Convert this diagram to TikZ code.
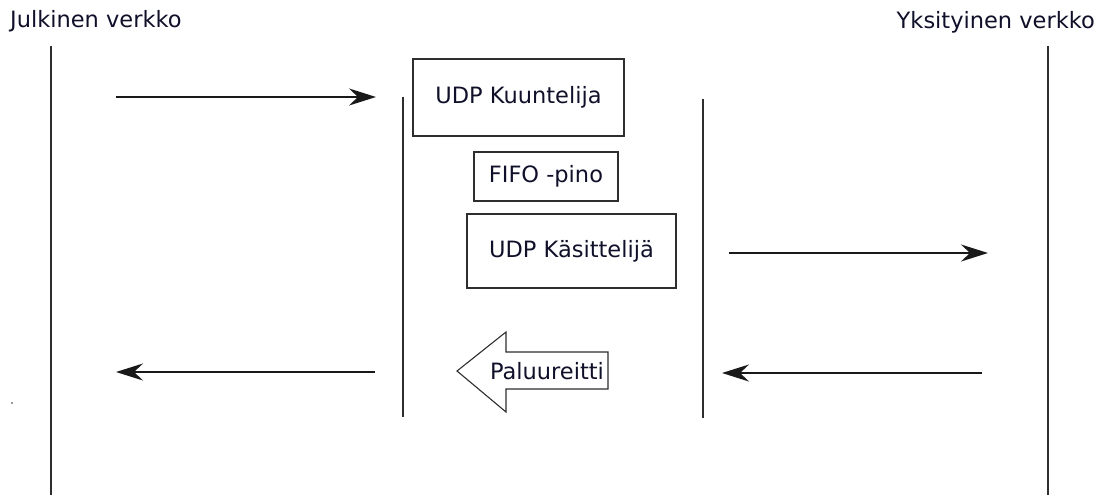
\documentclass[tikz,border=0pt]{standalone}
\usepackage{fontspec}
\setmainfont{DejaVu Sans}
\usetikzlibrary{arrows.meta}
\definecolor{ink}{HTML}{2E2E2E}
\definecolor{txt}{HTML}{10102A}
\begin{document}
\begin{tikzpicture}[x=1pt,y=-1pt,
  lbl/.style={font=\fontsize{22.5}{27}\selectfont,text=txt,inner sep=0pt},
  box/.style={lbl,draw=ink,line width=1.7pt},
  wall/.style={draw=ink,line width=1.9pt},
  flow/.style={draw=black!90,line width=1.9pt,-{Stealth[length=27pt,width=17pt,inset=9pt]}},
  retshape/.style={draw=ink,line width=1.1pt,fill=white,line join=miter}
]
\useasboundingbox (0,0) rectangle (1105,495);

% network headings
\node[lbl,anchor=west] (public) at (10,21) {Julkinen verkko};
\node[lbl,anchor=east] (private) at (1095,22) {Yksityinen verkko};

% outer network lines
\coordinate (pubTop) at (51,46);   \coordinate (pubBot) at (51,495);
\coordinate (privTop) at (1048,46); \coordinate (privBot) at (1048,495);
\draw[wall] (pubTop) -- (pubBot);
\draw[wall] (privTop) -- (privBot);

% inner gateway boundaries
\coordinate (gwLTop) at (403,97);  \coordinate (gwLBot) at (403,417);
\coordinate (gwRTop) at (703,99);  \coordinate (gwRBot) at (703,418);
\draw[wall] (gwLTop) -- (gwLBot);
\draw[wall] (gwRTop) -- (gwRBot);

% components
\node[box,minimum width=211pt,minimum height=77pt] (listener) at (518.5,97.5) {UDP Kuuntelija};
\node[box,minimum width=144pt,minimum height=49pt] (fifo) at (546,176.5) {FIFO -pino};
\node[box,minimum width=209pt,minimum height=74pt] (handler) at (571.5,251) {UDP Käsittelijä};

% return path block arrow
\draw[retshape] (457,371) -- (506,332) -- (506,352) -- (608,352) -- (608,389)
  -- (506,389) -- (506,412) -- cycle;
\node[lbl] (ret) at (547,371) {Paluureitti};

% traffic arrows
\coordinate (inA) at (116,97);   \coordinate (inB) at (376,97);
\coordinate (outA) at (729,253); \coordinate (outB) at (988,253);
\coordinate (backA) at (982,373); \coordinate (backB) at (722,373);
\coordinate (retA) at (375,372); \coordinate (retB) at (116,372);
\draw[flow] (inA) -- (inB);
\draw[flow] (outA) -- (outB);
\draw[flow] (backA) -- (backB);
\draw[flow] (retA) -- (retB);

% stray mark
\fill[ink] (12,403) circle (0.8pt);
\end{tikzpicture}
\end{document}
